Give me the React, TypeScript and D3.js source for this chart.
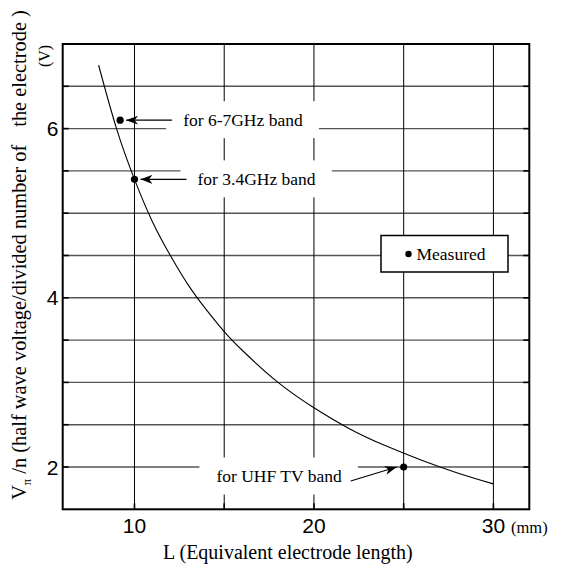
import React, { useEffect, useRef } from 'react';
import * as d3 from 'd3';

// curve (L in mm, Vpi/n in V)
const curveL = [8, 9, 10, 11, 12, 13, 14, 15, 16, 18, 20, 22, 24, 26, 28, 30];
const curveV = [6.75, 6.0, 5.4, 4.9, 4.5, 4.15, 3.86, 3.6, 3.38, 3.0, 2.7, 2.45, 2.25, 2.08, 1.93, 1.8];

// measured points
const measuredL = [9.2, 10, 25];
const measuredV = [6.1, 5.4, 2.0];
const bandLabels = ['for 6-7GHz band', 'for 3.4GHz band', 'for UHF TV band'];

const xTicks = [10, 20, 30];
const yTicks = [2, 4, 6];
const xGrid = [10, 15, 20, 25, 30];
const yGrid = [2, 2.5, 3, 3.5, 4, 4.5, 5, 5.5, 6, 6.5];

const App = () => {
    const ref = useRef<SVGSVGElement>(null);

    useEffect(() => {
        const width = 563;
        const height = 566;
        const svg = d3.select(ref.current);
        svg.selectAll('*').remove();
        svg.attr('width', width).attr('height', height);

        const serif = '"Liberation Serif", "Times New Roman", serif';
        const sans = '"Liberation Sans", Arial, sans-serif';

        // plot frame
        const left = 62.7, right = 529.3, top = 44, bottom = 509.3;

        const xScale = d3.scaleLinear().domain([6, 32]).range([left, right]);
        const yScale = d3.scaleLinear().domain([1.5, 7]).range([bottom, top]);

        svg.append('defs').append('marker')
            .attr('id', 'arrow')
            .attr('markerUnits', 'userSpaceOnUse')
            .attr('markerWidth', 14)
            .attr('markerHeight', 12)
            .attr('viewBox', '0 -6 14 12')
            .attr('refX', 12)
            .attr('refY', 0)
            .attr('orient', 'auto')
            .append('path')
            .attr('d', 'M0,-4.5 L12,0 L0,4.5 L3.5,0 Z')
            .attr('fill', '#000');

        const g = svg.append('g');

        // grid
        g.selectAll('.hgrid').data(yGrid).enter().append('line')
            .attr('x1', left).attr('x2', right)
            .attr('y1', d => yScale(d)).attr('y2', d => yScale(d))
            .attr('stroke', '#555').attr('stroke-width', 1.4);
        g.selectAll('.vgrid').data(xGrid).enter().append('line')
            .attr('x1', d => xScale(d)).attr('x2', d => xScale(d))
            .attr('y1', top).attr('y2', bottom)
            .attr('stroke', '#000').attr('stroke-width', 1);

        // small ticks on the frame
        g.selectAll('.ytickL').data(yGrid).enter().append('line')
            .attr('x1', left).attr('x2', left + 6)
            .attr('y1', d => yScale(d)).attr('y2', d => yScale(d))
            .attr('stroke', '#000').attr('stroke-width', 1.6);
        g.selectAll('.ytickR').data(yGrid).enter().append('line')
            .attr('x1', right - 6).attr('x2', right)
            .attr('y1', d => yScale(d)).attr('y2', d => yScale(d))
            .attr('stroke', '#000').attr('stroke-width', 1.6);
        g.selectAll('.xtickB').data(xGrid).enter().append('line')
            .attr('x1', d => xScale(d)).attr('x2', d => xScale(d))
            .attr('y1', bottom - 6).attr('y2', bottom)
            .attr('stroke', '#000').attr('stroke-width', 1.6);

        // curve
        const line = d3.line<number>()
            .x((d, i) => xScale(curveL[i]))
            .y(d => yScale(d))
            .curve(d3.curveNatural);
        g.append('path')
            .attr('d', line(curveV))
            .attr('fill', 'none')
            .attr('stroke', '#000')
            .attr('stroke-width', 1.1);

        // annotations: white box behind the text hides the grid
        const notes = g.append('g');
        measuredL.forEach((l, i) => {
            const px = xScale(l);
            const py = yScale(measuredV[i]);
            const onRight = i < 2;
            const tx = onRight ? px + 63 : px - 62;
            const ty = onRight ? py : py + 9.5;
            const bg = notes.append('rect').attr('fill', '#fff');
            const t = notes.append('text')
                .attr('x', tx).attr('y', ty)
                .attr('dy', '0.33em')
                .attr('text-anchor', onRight ? 'start' : 'end')
                .attr('font-family', serif)
                .attr('font-size', 17.5)
                .text(bandLabels[i]);
            const bb = (t.node() as SVGTextElement).getBBox();
            bg.attr('x', bb.x - 17).attr('y', ty - 19)
                .attr('width', bb.width + 33).attr('height', 37);
            const a0 = onRight ? [px + 52, py] : [px - 53, py + 14];
            const a1 = onRight ? [px + 6, py] : [px - 7, py];
            notes.append('line')
                .attr('x1', a0[0]).attr('y1', a0[1])
                .attr('x2', a1[0]).attr('y2', a1[1])
                .attr('stroke', '#000').attr('stroke-width', 1.2)
                .attr('marker-end', 'url(#arrow)');
        });

        // measured points
        g.selectAll('.pt').data(measuredV).enter().append('circle')
            .attr('cx', (d, i) => xScale(measuredL[i]))
            .attr('cy', d => yScale(d))
            .attr('r', 3.6)
            .attr('fill', '#000');

        // frame
        g.append('rect')
            .attr('x', left).attr('y', top)
            .attr('width', right - left).attr('height', bottom - top)
            .attr('fill', 'none').attr('stroke', '#000').attr('stroke-width', 2);

        // legend
        const lg = g.append('g');
        lg.append('rect')
            .attr('x', 381).attr('y', 235.5)
            .attr('width', 127).attr('height', 36.5)
            .attr('fill', '#fff').attr('stroke', '#000').attr('stroke-width', 1.5);
        lg.append('circle').attr('cx', 408.5).attr('cy', 254).attr('r', 3.2).attr('fill', '#000');
        lg.append('text')
            .attr('x', 416.5).attr('y', 254).attr('dy', '0.33em')
            .attr('font-family', serif).attr('font-size', 17.5)
            .text('Measured');

        // tick labels
        g.selectAll('.xlab').data(xTicks).enter().append('text')
            .attr('x', d => xScale(d)).attr('y', 533)
            .attr('text-anchor', 'middle')
            .attr('font-family', sans).attr('font-size', 21)
            .text(d => d);
        g.selectAll('.ylab').data(yTicks).enter().append('text')
            .attr('x', 58.5).attr('y', d => yScale(d)).attr('dy', '0.36em')
            .attr('text-anchor', 'end')
            .attr('font-family', sans).attr('font-size', 21)
            .text(d => d);

        // units
        svg.append('text')
            .attr('x', 511).attr('y', 533)
            .attr('font-family', serif).attr('font-size', 16.5)
            .text('(mm)');
        svg.append('text')
            .attr('transform', 'translate(50,56) rotate(-90)')
            .attr('text-anchor', 'middle')
            .attr('font-family', serif).attr('font-size', 16)
            .text('(V)');

        // axis titles
        svg.append('text')
            .attr('x', 163).attr('y', 559)
            .attr('font-family', serif).attr('font-size', 20)
            .text('L (Equivalent electrode length)');

        const yt = svg.append('text')
            .attr('transform', 'translate(26,255) rotate(-90)')
            .attr('text-anchor', 'middle')
            .attr('font-family', serif).attr('font-size', 20.4);
        yt.append('tspan').text('V');
        yt.append('tspan').attr('font-size', 12.5).attr('dy', 5).text('π');
        yt.append('tspan').attr('dy', -5).text('\u00a0/n (half wave voltage/divided number of');
        yt.append('tspan').attr('dx', 18).text('the electrode )');
    }, []);

    return (
        <svg ref={ref} style={{ position: 'absolute', left: 0, top: 0, display: 'block' }}></svg>
    );
};

export default App;
